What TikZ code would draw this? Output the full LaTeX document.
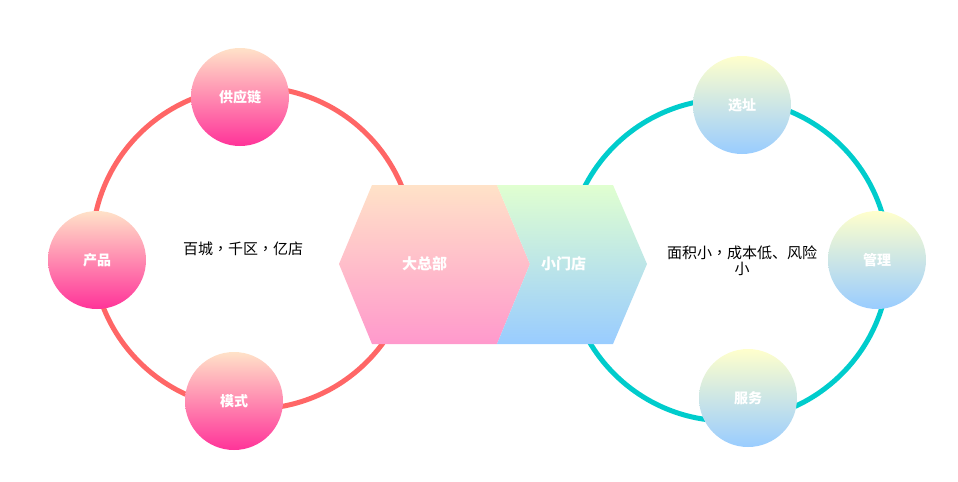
\documentclass[tikz,border=0pt]{standalone}
\usepackage{fontspec}
\newfontfamily\cjk{Noto Sans CJK SC}
\newfontfamily\cjktc{Noto Sans CJK TC}
\newcommand{\zhcomma}{{\cjktc ，}}
\definecolor{ringred}{RGB}{255,102,102}
\definecolor{ringteal}{RGB}{0,204,204}
\definecolor{peach}{RGB}{255,226,200}
\definecolor{hotpink}{RGB}{255,51,153}
\definecolor{softpink}{RGB}{255,153,204}
\definecolor{mintgreen}{RGB}{224,255,208}
\definecolor{skyblue}{RGB}{153,204,255}
\definecolor{paleyellow}{RGB}{255,255,204}
\tikzset{
  ring/.style={line width=3.75pt},
  ball/.style={circle, minimum size=73.5pt, inner sep=0pt, text=white,
    font=\cjk\bfseries\fontsize{10.5pt}{12pt}\selectfont},
  pinkball/.style={ball, top color=peach, bottom color=hotpink},
  blueball/.style={ball, top color=paleyellow, bottom color=skyblue},
  hexlabel/.style={text=white, font=\cjk\bfseries\fontsize{11.25pt}{13pt}\selectfont},
  plain/.style={text=black, align=center, font=\cjk\fontsize{11.25pt}{12pt}\selectfont}
}
\begin{document}
\begin{tikzpicture}[x=0.75pt,y=-0.75pt]
\useasboundingbox (0,0) rectangle (958,482);
\coordinate (lc) at (253,248);
\coordinate (rc) at (728,260);
\draw[ring, ringred] (lc) circle [radius=120.75pt];
\draw[ring, ringteal] (rc) circle [radius=120.75pt];
% hexagon halves
\shade[top color=peach, bottom color=softpink]
  (339,264) -- (372,185) -- (497,185) -- (530,264) -- (497,344) -- (372,344) -- cycle;
\shade[top color=mintgreen, bottom color=skyblue]
  (497,185) -- (613,185) -- (647,264) -- (613,344) -- (497,344) -- (530,264) -- cycle;
\node[hexlabel] (hq) at (424.5,264) {大总部};
\node[hexlabel] (store) at (563.5,264) {小门店};
% circles
\node[pinkball] (gyl) at (240,97) {供应链};
\node[pinkball] (cp) at (97,260) {产品};
\node[pinkball] (ms) at (234,401) {模式};
\node[blueball] (xz) at (742,105) {选址};
\node[blueball] (gl) at (877,260) {管理};
\node[blueball] (fw) at (748,398) {服务};
% texts
\node[plain] (lt) at (243,249) {百城\zhcomma 千区\zhcomma 亿店};
\node[plain] (rt) at (742,261) {面积小\zhcomma 成本低、风险\\小};
\end{tikzpicture}
\end{document}
